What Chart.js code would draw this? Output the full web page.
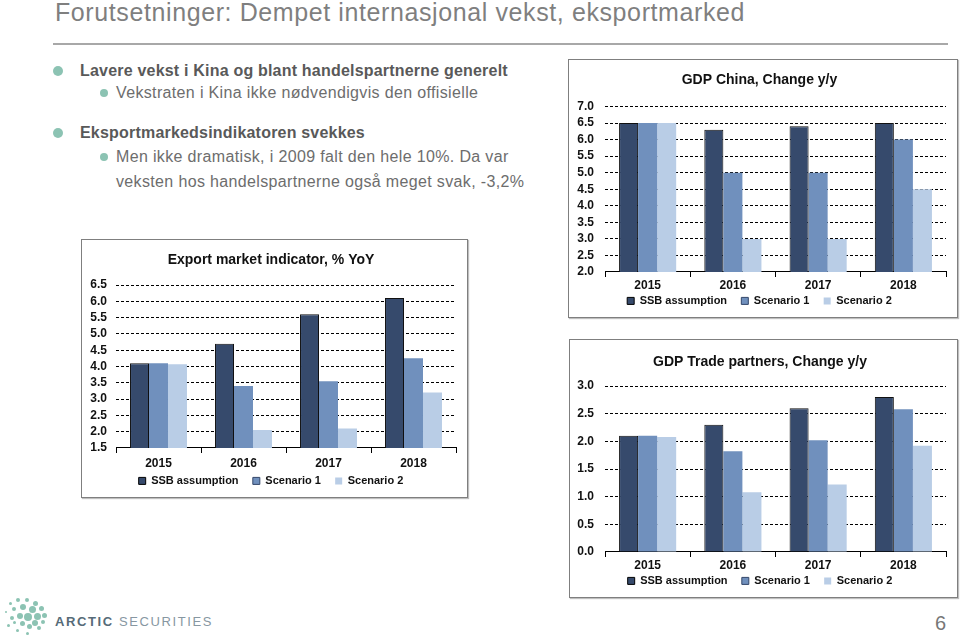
<!DOCTYPE html>
<html><head><meta charset="utf-8">
<script src="https://cdn.jsdelivr.net/npm/chart.js@4.4.0/dist/chart.umd.min.js"></script>
<style>
html,body{margin:0;padding:0;background:#fff;}
body{width:960px;height:637px;position:relative;overflow:hidden;font-family:"Liberation Sans",Arial,sans-serif;}
.abs{position:absolute;white-space:nowrap;}
#title{left:55px;top:-3px;font-size:25px;line-height:30px;color:#7f7f7f;letter-spacing:0.6px;}
#rule{left:53px;top:43px;width:895px;height:2px;background:#a8a8a8;}
.b1{font-weight:bold;font-size:16px;line-height:20px;color:#595959;letter-spacing:0.2px;}
.b2{font-size:16px;line-height:20px;color:#6d6d6d;letter-spacing:0.35px;}
.dot{position:absolute;border-radius:50%;background:#8cc3b3;}
.frame{position:absolute;border:1px solid #7f7f7f;box-sizing:border-box;box-shadow:1px 1px 1px rgba(0,0,0,0.25);}
canvas{position:absolute;}
#logo{left:55px;top:613px;font-size:13px;line-height:18px;letter-spacing:1.6px;}
#pg{left:935px;top:612px;font-size:20px;line-height:22px;color:#777;}
</style></head>
<body>
<div id="title" class="abs">Forutsetninger: Dempet internasjonal vekst, eksportmarked</div>
<div id="rule" class="abs"></div>

<div class="dot" style="left:53px;top:66px;width:10px;height:10px"></div>
<div class="abs b1" style="left:80px;top:61px">Lavere vekst i Kina og blant handelspartnerne generelt</div>
<div class="dot" style="left:100px;top:89px;width:8px;height:8px"></div>
<div class="abs b2" style="left:116px;top:83px">Vekstraten i Kina ikke nødvendigvis den offisielle</div>
<div class="dot" style="left:53px;top:128px;width:10px;height:10px"></div>
<div class="abs b1" style="left:80px;top:123px">Eksportmarkedsindikatoren svekkes</div>
<div class="dot" style="left:100px;top:153px;width:8px;height:8px"></div>
<div class="abs b2" style="left:116px;top:147px">Men ikke dramatisk, i 2009 falt den hele 10%. Da var</div>
<div class="abs b2" style="left:116px;top:172px">veksten hos handelspartnerne også meget svak, -3,2%</div>

<div class="frame" style="left:81px;top:239px;width:387px;height:259px"></div>
<canvas id="c1" width="387" height="259" style="left:81px;top:239px"></canvas>
<div class="frame" style="left:568px;top:59px;width:390px;height:259px"></div>
<canvas id="c2" width="390" height="259" style="left:568px;top:59px"></canvas>
<div class="frame" style="left:569px;top:339px;width:389px;height:259px"></div>
<canvas id="c3" width="389" height="259" style="left:569px;top:339px"></canvas>

<div id="dots"></div>
<div id="logo" class="abs"><span style="font-weight:bold;color:#566b78">ARCTIC</span> <span style="color:#8797a2">SECURITIES</span></div>
<div id="pg" class="abs">6</div>

<script>
// ---- data ----
const years = ['2015', '2016', '2017', '2018'];
const seriesNames = ['SSB assumption', 'Scenario 1', 'Scenario 2'];

const exportSSB = [4.1, 4.7, 5.6, 6.1];
const exportS1  = [4.1, 3.4, 3.55, 4.25];
const exportS2  = [4.07, 2.05, 2.1, 3.2];
const exportTicks = [1.5, 2.0, 2.5, 3.0, 3.5, 4.0, 4.5, 5.0, 5.5, 6.0, 6.5];

const chinaSSB = [6.5, 6.3, 6.4, 6.5];
const chinaS1  = [6.5, 5.0, 5.0, 6.0];
const chinaS2  = [6.5, 3.0, 3.0, 4.5];
const chinaTicks = [2.0, 2.5, 3.0, 3.5, 4.0, 4.5, 5.0, 5.5, 6.0, 6.5, 7.0];

const tradeSSB = [2.1, 2.3, 2.6, 2.8];
const tradeS1  = [2.1, 1.82, 2.02, 2.58];
const tradeS2  = [2.08, 1.08, 1.22, 1.92];
const tradeTicks = [0.0, 0.5, 1.0, 1.5, 2.0, 2.5, 3.0];

// ---- styles ----
const FONT = '"Liberation Sans", Arial, sans-serif';
const fills = ['#364a6c', '#7090bd', '#b9cde6'];
const barBorders = ['#111', '#7090bd', '#b9cde6'];
const barBorderW = [1, 0, 0];
const legendStroke = ['#000', '#33476a', null];
const LEG_P = 2;
const PAD_LEFT = 5;

function makeChart(id, titleText, s0, s1, s2, ticks, L) {
  const series = [s0, s1, s2];
  const X = 22.2 + L.xPad;
  const padBottom = L.H - (L.A + X + 13.2 + LEG_P + 10);
  new Chart(document.getElementById(id), {
    type: 'bar',
    data: {
      labels: years,
      datasets: series.map((d, i) => ({
        label: seriesNames[i],
        data: d,
        backgroundColor: fills[i],
        borderColor: barBorders[i],
        borderWidth: barBorderW[i],
        categoryPercentage: 0.67,
        barPercentage: 1.0
      }))
    },
    options: {
      responsive: false,
      animation: false,
      devicePixelRatio: 1,
      layout: { padding: { left: PAD_LEFT, right: 12, top: 0, bottom: padBottom } },
      plugins: {
        title: {
          display: true, text: titleText, color: '#111',
          font: { family: FONT, size: 14, weight: 'bold' },
          padding: { top: L.T - 8.4, bottom: L.P - L.T - 8.4 }
        },
        legend: {
          position: 'bottom', align: 'center',
          labels: {
            boxWidth: 7, boxHeight: 7, padding: LEG_P, color: '#111',
            font: { family: FONT, size: 11, weight: 'bold' },
            generateLabels: chart => chart.data.datasets.map((ds, i) => ({
              text: ds.label + (i < 2 ? '\u00a0\u00a0\u00a0\u00a0' : ''),
              fillStyle: ds.backgroundColor,
              strokeStyle: legendStroke[i] || ds.backgroundColor,
              lineWidth: legendStroke[i] ? 1 : 0,
              hidden: false, datasetIndex: i, fontColor: '#111'
            }))
          }
        },
        tooltip: { enabled: false }
      },
      scales: {
        x: {
          grid: { offset: true, drawOnChartArea: false, drawTicks: true, tickLength: 5, color: '#000', tickColor: '#000' },
          border: { display: true, color: '#000', width: 1 },
          ticks: { padding: L.xPad, color: '#111', font: { family: FONT, size: 12, weight: 'bold' } }
        },
        y: {
          min: ticks[0], max: ticks[ticks.length - 1],
          afterBuildTicks: s => { s.ticks = ticks.map(v => ({ value: v })); },
          afterFit: s => { s.width = L.plotLeft - PAD_LEFT; },
          grid: { color: '#000', lineWidth: 1, drawTicks: false },
          border: { display: false, dash: [3, 2] },
          ticks: { autoSkip: false, padding: L.yPad, color: '#111', font: { family: FONT, size: 12, weight: 'bold' },
                   callback: v => Number(v).toFixed(1) }
        }
      }
    }
  });
}

makeChart('c1', 'Export market indicator, % YoY', exportSSB, exportS1, exportS2, exportTicks,
  { H: 259, plotLeft: 35, yPad: 9, xPad: 3, A: 207, T: 21, P: 46 });
makeChart('c2', 'GDP China, Change y/y', chinaSSB, chinaS1, chinaS2, chinaTicks,
  { H: 259, plotLeft: 37, yPad: 11, xPad: 1, A: 209, T: 21, P: 47.5 });
makeChart('c3', 'GDP Trade partners, Change y/y', tradeSSB, tradeS1, tradeS2, tradeTicks,
  { H: 259, plotLeft: 36, yPad: 11, xPad: 1, A: 209, T: 23, P: 47 });

// ---- logo dots (decoration) ----
const logoDots = [[10,603,1.5],[18,600,2],[27,600,2],[35,603,2.5],[41,608,2.5],[44,615,2.5],[43,622,2],[39,628,2],
  [6,612,1.2],[14,609,2.2],[23,607,3],[32,609,3.5],[37,616,3.5],[35,623,3],[29,626,2.5],[12,618,2],[20,616,3],
  [28,617,4],[22,623,2.5],[8,625,1.5],[17,630,1.5],[27,633,1.5],[14,622,1.5]];
const dotsEl = document.getElementById('dots');
logoDots.forEach(([x, y, r]) => {
  const d = document.createElement('div');
  d.className = 'dot';
  d.style.cssText = `left:${x - r}px;top:${y - r}px;width:${2 * r}px;height:${2 * r}px`;
  dotsEl.appendChild(d);
});
</script>
</body></html>
